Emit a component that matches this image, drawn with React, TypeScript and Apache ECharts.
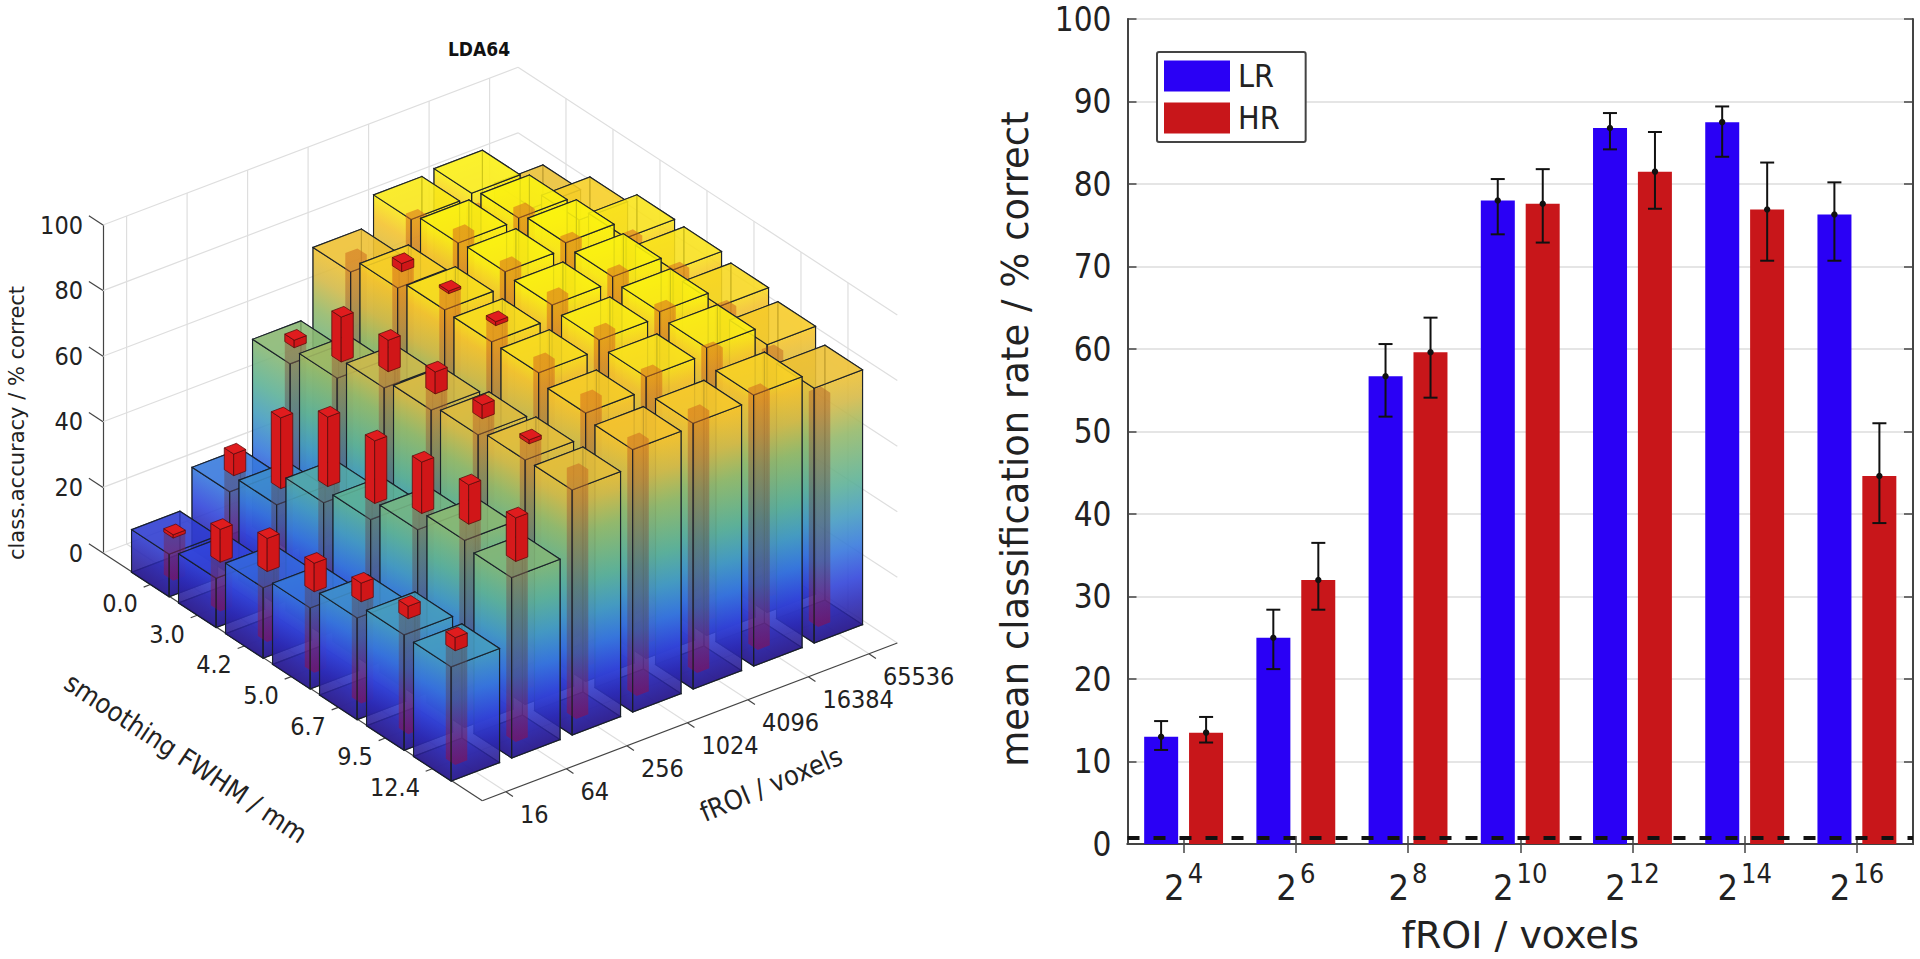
import React, { useEffect, useRef } from "react";
import * as echarts from "echarts";

const FONT = '"DejaVu Sans Condensed","DejaVu Sans",sans-serif';
const FONT_WIDE = '"DejaVu Sans",sans-serif';

// ---------- right chart data ----------
const categories = ["4", "6", "8", "10", "12", "14", "16"];
const lrMean = [13, 25, 56.7, 78, 86.8, 87.5, 76.3];
const lrLow = [11.4, 21.2, 51.8, 73.9, 84.2, 83.3, 70.7];
const lrHigh = [14.9, 28.4, 60.6, 80.6, 88.6, 89.4, 80.2];
const hrMean = [13.5, 32, 59.6, 77.6, 81.5, 76.9, 44.6];
const hrLow = [12.3, 28.4, 54.1, 72.9, 77, 70.7, 38.9];
const hrHigh = [15.4, 36.5, 63.8, 81.8, 86.3, 82.6, 51];
const chanceLevel = 0.78;

// ---------- left chart data ----------
const fwhmLabels = ["0.0", "3.0", "4.2", "5.0", "6.7", "9.5", "12.4"];
const froiLabels = ["16", "64", "256", "1024", "4096", "16384", "65536"];
const outerFwhm00 = [13, 25, 57, 78, 87, 88, 76.5];
const outerFwhm30 = [15, 30.4, 62, 82.5, 89.2, 89.8, 82.2];
const outerFwhm42 = [21.5, 40.4, 68.4, 85.2, 89.8, 91.6, 86.1];
const outerFwhm50 = [24.7, 44.6, 71, 84.8, 89, 90.6, 85.7];
const outerFwhm67 = [31, 50.9, 72.8, 84.7, 87.7, 89.3, 84];
const outerFwhm95 = [35.2, 57, 74.5, 81.8, 85.8, 87.7, 81.6];
const outerFwhm124 = [34.8, 55, 74.7, 80, 81, 82.6, 77.7];
const innerFwhm00 = [14, 31.6, 59.3, 77, 82, 77, 44.6];
const innerFwhm30 = [25, 52, 75.7, 85, 86.7, 86.3, 65];
const innerFwhm42 = [31.6, 61.6, 78, 86, 86.3, 86.8, 80.5];
const innerFwhm50 = [33.4, 63.7, 77.7, 86, 86.2, 86.2, 80];
const innerFwhm67 = [36.7, 66.6, 77, 82.7, 84.8, 84.8, 77.7];
const innerFwhm95 = [39, 69, 75.7, 80.8, 81.4, 81.4, 73.5];
const innerFwhm124 = [38.8, 68.3, 74.7, 77, 78.6, 78, 70];
const outerRows = [outerFwhm00, outerFwhm30, outerFwhm42, outerFwhm50, outerFwhm67, outerFwhm95, outerFwhm124];
const innerRows = [innerFwhm00, innerFwhm30, innerFwhm42, innerFwhm50, innerFwhm67, innerFwhm95, innerFwhm124];
const zTicks = [0, 20, 40, 60, 80, 100];

// 3D projection (screen px per unit of each axis)
const U_DX = 60.5, U_DY = -23, V_DX = 47, V_DY = 30.7, PX_PER_Z = 3.28;
const U_MIN = -0.39, U_MAX = 6.47, V_MIN = -1.02, V_MAX = 7.05;
const OUTER_H = 0.4, INNER_H = 0.1;

const Xp = (u: number, v: number) => (u - U_MIN) * U_DX + (v - V_MIN) * V_DX;
const Zp = (u: number, v: number, z: number) => z - ((u - U_MIN) * U_DY + (v - V_MIN) * V_DY) / PX_PER_Z;

const cmap: [number, number[]][] = [
  [0, [42, 26, 140]],
  [8, [44, 44, 185]],
  [15, [50, 70, 220]],
  [25, [55, 122, 220]],
  [35, [70, 158, 190]],
  [45, [95, 178, 148]],
  [60, [150, 185, 105]],
  [70, [215, 185, 70]],
  [80, [245, 195, 45]],
  [88, [250, 240, 20]],
  [100, [252, 252, 0]],
];
const tintMap: [number, number[]][] = [
  [0, [135, 15, 85, 0.62]],
  [8, [125, 30, 90, 0.56]],
  [20, [85, 68, 105, 0.5]],
  [40, [95, 88, 92, 0.52]],
  [60, [150, 100, 60, 0.52]],
  [80, [215, 108, 25, 0.55]],
  [100, [215, 108, 25, 0.55]],
];
const sample = (table: [number, number[]][], z: number) => {
  let i = 0;
  while (i < table.length - 2 && z > table[i + 1][0]) i++;
  const [z0, c0] = table[i];
  const [z1, c1] = table[i + 1];
  const t = Math.min(1, Math.max(0, (z - z0) / (z1 - z0)));
  return c0.map((x, k) => x + (c1[k] - x) * t);
};
const colorAt = (z: number, a: number) => {
  const c = sample(cmap, z).map(Math.round);
  return `rgba(${c[0]},${c[1]},${c[2]},${a})`;
};
const tintAt = (z: number) => {
  const c = sample(tintMap, z);
  return `rgba(${Math.round(c[0])},${Math.round(c[1])},${Math.round(c[2])},${c[3].toFixed(3)})`;
};
const ALPHA = 0.8;
const stopsFrom = (table: [number, number[]][], z: number, at: (x: number) => string) => {
  const stops = [{ offset: 0, color: at(0) }];
  table.forEach(([zc]) => {
    if (zc > 0 && zc < z) stops.push({ offset: zc / z, color: at(zc) });
  });
  stops.push({ offset: 1, color: at(z) });
  return stops;
};

const STROKE = "rgba(24,30,40,0.92)";
const barFace = (project: any, a: number[], b: number[], z: number, alpha: number) => {
  const B1 = project(a[0], a[1], 0), B2 = project(b[0], b[1], 0);
  const T1 = project(a[0], a[1], z), T2 = project(b[0], b[1], z);
  const dx = B2[0] - B1[0], dy = B2[1] - B1[1];
  const len = Math.hypot(dx, dy);
  const nx = -dy / len, ny = dx / len;
  const t = (T1[0] - B1[0]) * nx + (T1[1] - B1[1]) * ny;
  const fill = new echarts.graphic.LinearGradient(B1[0], B1[1], B1[0] + nx * t, B1[1] + ny * t, stopsFrom(cmap, z, (x) => colorAt(x, alpha)) as any, true);
  return { type: "polygon", shape: { points: [B1, B2, T2, T1] }, style: { fill, stroke: STROKE, lineWidth: 1.1 } };
};
const flatFace = (project: any, pts: number[][], z: number, fill: string, stroke = STROKE) => ({
  type: "polygon",
  shape: { points: pts.map((p) => project(p[0], p[1], z)) },
  style: { fill, stroke, lineWidth: 1.1 },
});

const columnCorners = (u: number, v: number) => {
  const h = INNER_H;
  return [[u - h, v - h], [u - h, v + h], [u + h, v + h], [u + h, v - h]];
};
const redColumn = (project: any, u: number, v: number, z0: number, z1: number) => {
  const [l, f, r, b] = columnCorners(u, v);
  const stroke = "rgba(90,10,10,0.95)";
  const side = (p: number[], q: number[], fill: string) => ({
    type: "polygon",
    shape: { points: [project(p[0], p[1], z0), project(q[0], q[1], z0), project(q[0], q[1], z1), project(p[0], p[1], z1)] },
    style: { fill, stroke, lineWidth: 0.8 },
  });
  return [
    side(l, f, "#d61a1c"),
    side(f, r, "#d01618"),
    { type: "polygon", shape: { points: [l, f, r, b].map((p) => project(p[0], p[1], z1)) }, style: { fill: "#e01c1e", stroke, lineWidth: 0.8 } },
  ];
};
// what the column looks like through the translucent outer bar
const columnTint = (project: any, u: number, v: number, z: number) => {
  const [l, f, r, b] = columnCorners(u, v);
  const top = project(f[0], f[1], z), bottom = project(f[0], f[1], 0);
  const fill = new echarts.graphic.LinearGradient(bottom[0], bottom[1], top[0], top[1], stopsFrom(tintMap, z, tintAt) as any, true);
  return {
    type: "polygon",
    shape: { points: [project(l[0], l[1], 0), project(f[0], f[1], 0), project(r[0], r[1], 0), project(r[0], r[1], z), project(b[0], b[1], z), project(l[0], l[1], z)] },
    style: { fill, stroke: "none" },
  };
};

const cells: number[][] = [];
for (let v = 0; v < 7; v++) for (let u = 6; u >= 0; u--) cells.push([u, v, outerRows[v][u], innerRows[v][u]]);

const renderCell = (_: any, api: any) => {
  const u = api.value(0), v = api.value(1), z = api.value(2), r = api.value(3);
  const project = (a: number, b: number, c: number) => api.coord([Xp(a, b), Zp(a, b, c)]);
  const h = OUTER_H;
  const l = [u - h, v - h], f = [u - h, v + h], rr = [u + h, v + h], b = [u + h, v - h];
  const inside = Math.min(r, z);
  const children: any[] = [
    flatFace(project, [l, f, rr, b], 0, colorAt(0, ALPHA)),
    barFace(project, b, l, z, ALPHA * 0.6),
    barFace(project, rr, b, z, ALPHA * 0.6),
    barFace(project, l, f, z, ALPHA),
    barFace(project, f, rr, z, ALPHA),
    flatFace(project, [l, f, rr, b], z, colorAt(z, ALPHA)),
    columnTint(project, u, v, inside),
  ];
  if (r > z) children.push(...redColumn(project, u, v, z, r));
  // the vertical front edge stays on top of the tinted column
  const e1 = project(f[0], f[1], 0), e2 = project(f[0], f[1], z);
  children.push({ type: "line", shape: { x1: e1[0], y1: e1[1], x2: e2[0], y2: e2[1] }, style: { stroke: STROKE, lineWidth: 1.1 } });
  return { type: "group", children };
};

// wall, floor and axis lines of the 3D box: [u1, v1, z1, u2, v2, z2, dark]
const boxLines: number[][] = [];
zTicks.forEach((z) => {
  boxLines.push([U_MIN, V_MIN, z, U_MAX, V_MIN, z, 0]);
  boxLines.push([U_MAX, V_MIN, z, U_MAX, V_MAX, z, 0]);
});
froiLabels.forEach((_, u) => {
  boxLines.push([u, V_MIN, 0, u, V_MIN, 100, 0]);
  boxLines.push([u, V_MIN, 0, u, V_MAX, 0, 0]);
});
fwhmLabels.forEach((_, v) => {
  boxLines.push([U_MAX, v, 0, U_MAX, v, 100, 0]);
  boxLines.push([U_MIN, v, 0, U_MAX, v, 0, 0]);
});
const axisLines: number[][] = [
  [U_MIN, V_MIN, 0, U_MIN, V_MAX, 0, 1],
  [U_MIN, V_MAX, 0, U_MAX, V_MAX, 0, 1],
];
fwhmLabels.forEach((_, v) => axisLines.push([U_MIN, v, 0, U_MIN - 0.12, v, 0, 1]));
froiLabels.forEach((_, u) => axisLines.push([u, V_MAX, 0, u, V_MAX + 0.15, 0, 1]));
zTicks.forEach((z) => axisLines.push([U_MIN, V_MIN, z, U_MIN, V_MIN - 0.3, z, 1]));

const renderLine = (_: any, api: any) => {
  const [u1, v1, z1, u2, v2, z2, dark] = [0, 1, 2, 3, 4, 5, 6].map((i) => api.value(i));
  const a = api.coord([Xp(u1, v1), Zp(u1, v1, z1)]);
  const b = api.coord([Xp(u2, v2), Zp(u2, v2, z2)]);
  return {
    type: "line",
    shape: { x1: a[0], y1: a[1], x2: b[0], y2: b[1] },
    style: { stroke: dark ? "#444" : "#dedede", lineWidth: 1.2 },
  };
};

const LABEL_SIZE = 25;
const renderFwhmLabel = (p: any, api: any) => {
  const pt = api.coord([Xp(U_MIN, p.dataIndex), Zp(U_MIN, p.dataIndex, 0)]);
  return { type: "text", style: { text: fwhmLabels[p.dataIndex], x: pt[0] - 13, y: pt[1] + 19, align: "right", verticalAlign: "middle", fontSize: LABEL_SIZE, fontFamily: FONT, fill: "#222" } };
};
const renderFroiLabel = (p: any, api: any) => {
  const pt = api.coord([Xp(p.dataIndex, V_MAX), Zp(p.dataIndex, V_MAX, 0)]);
  return { type: "text", style: { text: froiLabels[p.dataIndex], x: pt[0] + 14, y: pt[1] + 23, align: "left", verticalAlign: "middle", fontSize: LABEL_SIZE, fontFamily: FONT, fill: "#222" } };
};

const errorRender = (mean: number[], low: number[], high: number[], offset: number) => (p: any, api: any) => {
  const i = p.dataIndex;
  const t = api.coord([i, high[i]]), b = api.coord([i, low[i]]), m = api.coord([i, mean[i]]);
  const x = t[0] + offset;
  const ln = (x1: number, y1: number, x2: number, y2: number) => ({ type: "line", shape: { x1, y1, x2, y2 }, style: { stroke: "#111", lineWidth: 2 } });
  return {
    type: "group",
    children: [
      ln(x, t[1], x, b[1]),
      ln(x - 7, t[1], x + 7, t[1]),
      ln(x - 7, b[1], x + 7, b[1]),
      { type: "circle", shape: { cx: x, cy: m[1], r: 3.2 }, style: { fill: "#111" } },
    ],
  };
};

const BAR_OFFSET = 22.5;
const G3D = { left: 103, top: 225, width: 794, height: 328 };
const G2D = { left: 1127.5, top: 19, width: 785.5, height: 829 };

export default function App() {
  const ref = useRef<HTMLDivElement>(null);
  useEffect(() => {
    const chart = echarts.init(ref.current!, undefined, { renderer: "svg" });
    const axisLineDark = { show: true, lineStyle: { color: "#444", width: 2 } };
    const tickDark = { color: "#444", width: 1.5 };
    chart.setOption({
      animation: false,
      backgroundColor: "#fff",
      title: {
        text: "LDA64",
        left: 474,
        top: 34,
        textAlign: "center",
        textStyle: { fontFamily: FONT, fontSize: 19, fontWeight: "bold", color: "#111" },
      },
      legend: {
        data: ["LR", "HR"],
        icon: "rect",
        orient: "vertical",
        left: 1157,
        top: 52,
        padding: [8, 26, 8, 7],
        itemWidth: 66,
        itemHeight: 31,
        itemGap: 10,
        selectedMode: false,
        backgroundColor: "#fff",
        borderColor: "#444",
        borderWidth: 2,
        borderRadius: 2,
        textStyle: { fontFamily: FONT, fontSize: 32, color: "#222", padding: [0, 0, 0, 3] },
      },
      grid: [
        { ...G3D, containLabel: false },
        { ...G2D, containLabel: false },
      ],
      xAxis: [
        { type: "value", gridIndex: 0, min: 0, max: G3D.width, show: false },
        {
          type: "category",
          gridIndex: 1,
          data: categories,
          axisLine: axisLineDark,
          axisTick: { show: true, inside: true, alignWithLabel: true, length: 8, lineStyle: tickDark },
          axisLabel: {
            margin: 11,
            formatter: (e: string) => `{b|2}{s|${e}}`,
            rich: {
              b: { fontFamily: FONT, fontSize: 36, color: "#222", padding: [14, 0, 0, 0] },
              s: { fontFamily: FONT, fontSize: 27, color: "#222", padding: [0, 0, 14, 3] },
            },
          },
          name: "fROI / voxels",
          nameLocation: "middle",
          nameGap: 72,
          nameTextStyle: { fontFamily: FONT_WIDE, fontSize: 38, color: "#222" },
        },
        {
          type: "category",
          gridIndex: 1,
          position: "top",
          data: categories,
          axisLine: axisLineDark,
          axisTick: { show: true, inside: true, alignWithLabel: true, length: 9, lineStyle: tickDark },
          axisLabel: { show: false },
        },
      ],
      yAxis: [
        {
          type: "value",
          gridIndex: 0,
          min: 0,
          max: 100,
          interval: 20,
          axisLine: { show: true, lineStyle: { color: "#444", width: 1.2 } },
          axisTick: { show: false },
          splitLine: { show: false },
          axisLabel: { margin: 20, fontFamily: FONT, fontSize: LABEL_SIZE, color: "#222" },
        },
        {
          type: "value",
          gridIndex: 1,
          min: 0,
          max: 100,
          interval: 10,
          axisLine: axisLineDark,
          axisTick: { show: true, inside: true, length: 9, lineStyle: tickDark },
          splitLine: { show: true, lineStyle: { color: "#dddddd", width: 1.6 } },
          axisLabel: { margin: 16, fontFamily: FONT, fontSize: 33, color: "#222" },
        },
        {
          type: "value",
          gridIndex: 1,
          position: "right",
          min: 0,
          max: 100,
          interval: 10,
          axisLine: axisLineDark,
          axisTick: { show: true, inside: true, length: 9, lineStyle: tickDark },
          splitLine: { show: false },
          axisLabel: { show: false },
        },
      ],
      graphic: [
        {
          type: "text",
          x: 17,
          y: 423,
          rotation: Math.PI / 2,
          style: { text: "class.accuracy / % correct", fontFamily: FONT_WIDE, fontSize: 21, fill: "#222", align: "center", verticalAlign: "middle" },
        },
        {
          type: "text",
          x: 186,
          y: 758,
          rotation: -0.585,
          style: { text: "smoothing FWHM / mm", fontFamily: FONT, fontSize: 27, fill: "#222", align: "center", verticalAlign: "middle" },
        },
        {
          type: "text",
          x: 771,
          y: 784,
          rotation: 0.4,
          style: { text: "fROI / voxels", fontFamily: FONT, fontSize: 27, fill: "#222", align: "center", verticalAlign: "middle" },
        },
        {
          type: "text",
          x: 1015,
          y: 439,
          rotation: Math.PI / 2,
          style: { text: "mean classification rate / % correct", fontFamily: FONT_WIDE, fontSize: 37, fill: "#222", align: "center", verticalAlign: "middle" },
        },
      ],
      series: [
        { type: "custom", name: "box", xAxisIndex: 0, yAxisIndex: 0, data: boxLines, renderItem: renderLine, silent: true, z: 1 },
        { type: "custom", name: "axes", xAxisIndex: 0, yAxisIndex: 0, data: axisLines, renderItem: renderLine, silent: true, z: 2 },
        { type: "custom", name: "accuracy", xAxisIndex: 0, yAxisIndex: 0, data: cells, renderItem: renderCell, silent: true, z: 3 },
        { type: "custom", name: "fwhmLabels", xAxisIndex: 0, yAxisIndex: 0, data: fwhmLabels.map((_, i) => [i, 0]), renderItem: renderFwhmLabel, silent: true, z: 4 },
        { type: "custom", name: "froiLabels", xAxisIndex: 0, yAxisIndex: 0, data: froiLabels.map((_, i) => [i, 0]), renderItem: renderFroiLabel, silent: true, z: 4 },
        {
          type: "bar",
          name: "LR",
          xAxisIndex: 1,
          yAxisIndex: 1,
          data: lrMean,
          barWidth: 34,
          barGap: "32%",
          itemStyle: { color: "#2a00f5" },
          z: 3,
        },
        {
          type: "bar",
          name: "HR",
          xAxisIndex: 1,
          yAxisIndex: 1,
          data: hrMean,
          barWidth: 34,
          barGap: "32%",
          itemStyle: { color: "#c8161a" },
          z: 3,
          markLine: {
            silent: true,
            symbol: "none",
            label: { show: false },
            lineStyle: { color: "#111", type: [12, 14], width: 4 },
            data: [{ yAxis: chanceLevel }],
          },
        },
        { type: "custom", name: "LR error", xAxisIndex: 1, yAxisIndex: 1, data: lrMean.map((m, i) => [i, m]), renderItem: errorRender(lrMean, lrLow, lrHigh, -BAR_OFFSET), silent: true, z: 5 },
        { type: "custom", name: "HR error", xAxisIndex: 1, yAxisIndex: 1, data: hrMean.map((m, i) => [i, m]), renderItem: errorRender(hrMean, hrLow, hrHigh, BAR_OFFSET), silent: true, z: 5 },
      ],
    });
    return () => chart.dispose();
  }, []);
  return <div ref={ref} style={{ position: "fixed", left: 0, top: 0, width: 1920, height: 959 }} />;
}
